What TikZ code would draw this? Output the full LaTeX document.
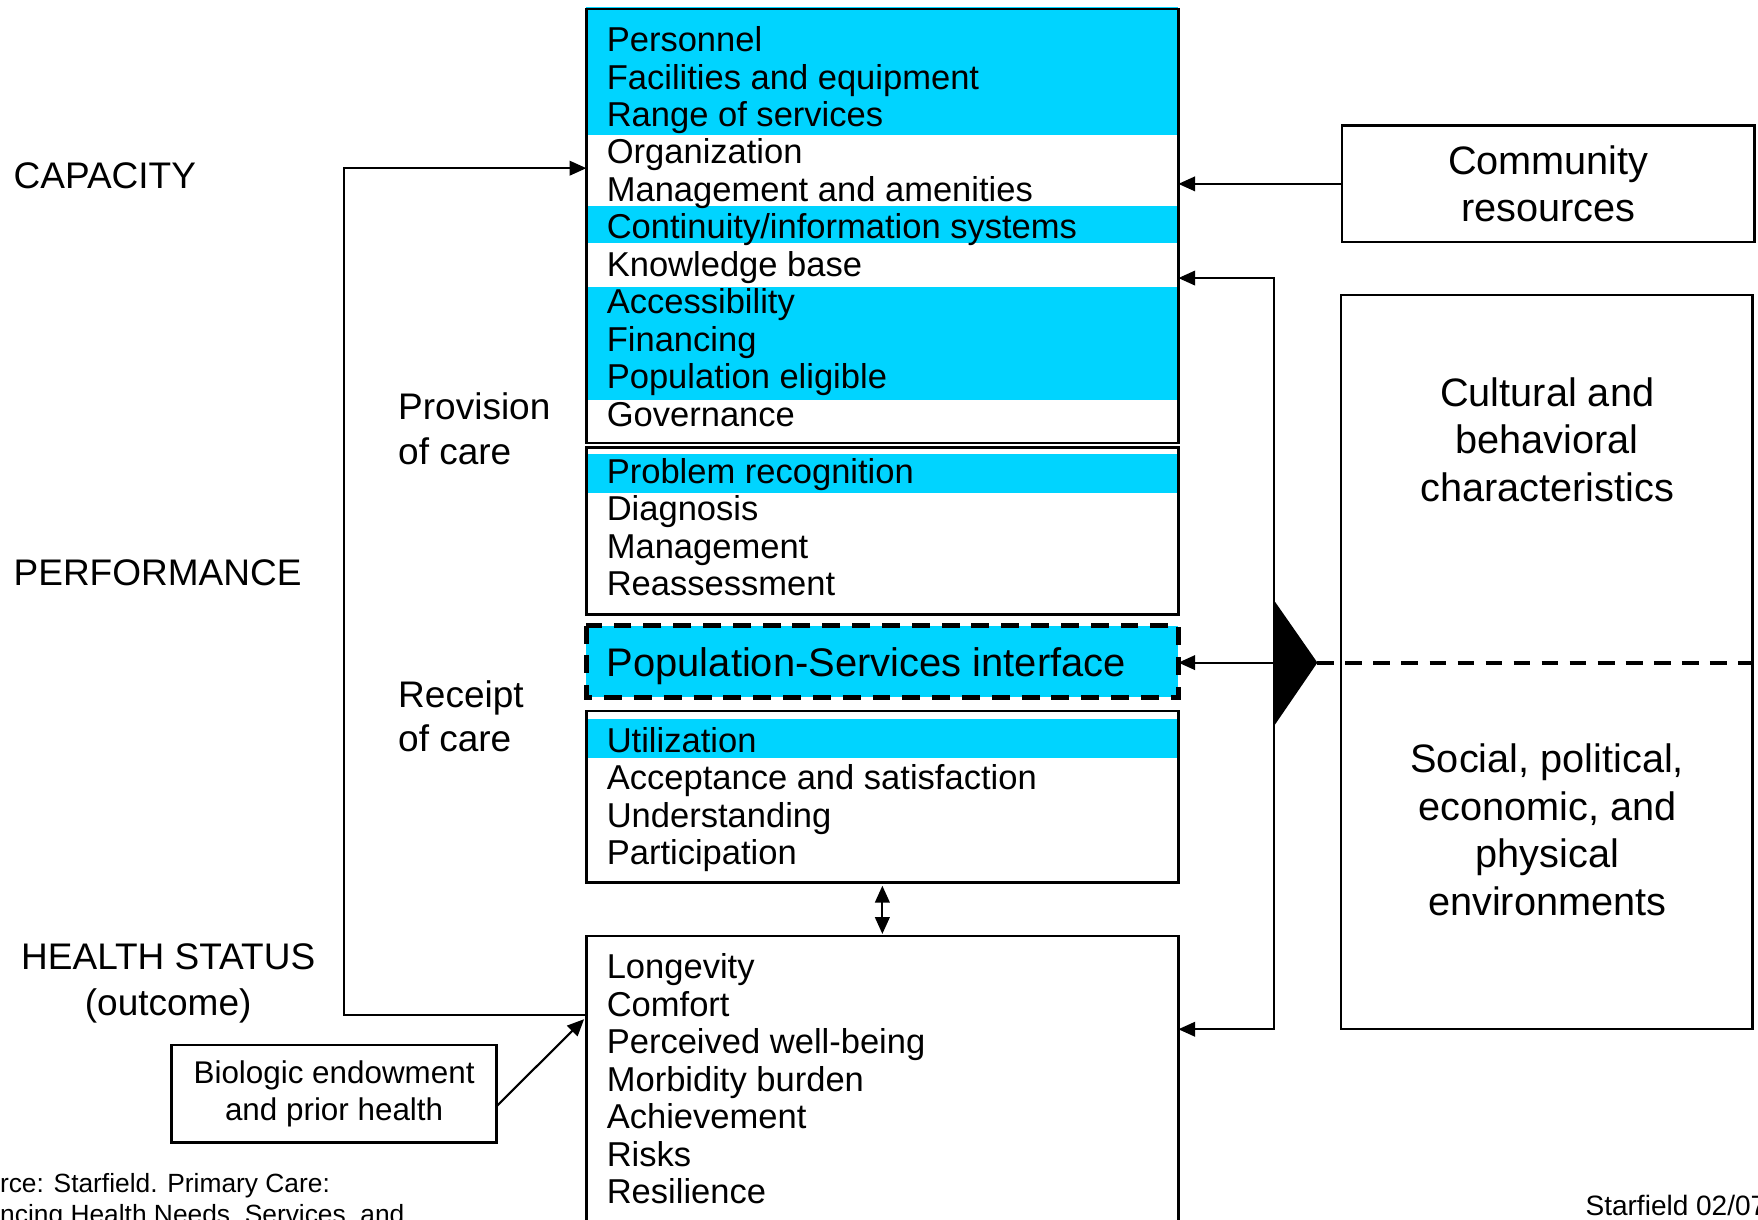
\documentclass[tikz,border=0pt]{standalone}
\usepackage{fontspec}
\setmainfont{Liberation Sans}
\usetikzlibrary{arrows.meta}
\definecolor{band}{RGB}{0,212,255}
\begin{document}
\begin{tikzpicture}[x=1pt,y=-1pt,
  box/.style={draw, line width=2.2pt, rectangle, inner sep=0pt, outer sep=0pt, anchor=north west},
  item/.style={anchor=base west, inner sep=0pt, font=\fontsize{30.8}{33.4}\selectfont},
  lab/.style={inner sep=0pt, font=\fontsize{33}{40}\selectfont},
  big/.style={align=center, inner sep=0pt, font=\fontsize{35.4}{42.5}\selectfont},
  small/.style={inner sep=0pt, font=\fontsize{23.5}{27}\selectfont},
  conn/.style={line width=1.9pt},
  arr/.style={conn, -{Triangle[length=15pt,width=13pt]}},
  dbl/.style={conn, {Triangle[length=15pt,width=13pt]}-{Triangle[length=15pt,width=13pt]}},
  dashline/.style={line width=3.6pt, dash pattern=on 15pt off 10pt},
]
\useasboundingbox (0,0) rectangle (1568,1088);

% cyan bands
\fill[band] (523,6) rectangle (1051,120);
\fill[band] (523,184) rectangle (1051,217);
\fill[band] (523,256) rectangle (1051,357);
\fill[band] (523,405) rectangle (1051,440);
\fill[band] (523,641) rectangle (1051,676);

% boxes
\node[box, minimum width=528pt, minimum height=387pt] (cap) at (523,8) {};
\node[box, minimum width=528pt, minimum height=149pt] (proc) at (523,399) {};
\node[box, draw=none, fill=band, minimum width=528pt, minimum height=64pt] (iface) at (523,558) {};
\draw[line width=4.4pt, dash pattern=on 16pt off 10.6pt] (iface.north west) rectangle (iface.south east);
\node[box, minimum width=528pt, minimum height=153pt] (rec) at (523,634) {};
\node[box, minimum width=528pt, minimum height=300pt] (health) at (523,835) {};
\node[box, minimum width=368pt, minimum height=104pt, big] (comm) at (1197,112) {Community\\resources};
\node[box, minimum width=367pt, minimum height=655pt] (env) at (1196,263) {};
\node[box, minimum width=290pt, minimum height=87pt, align=center, font=\fontsize{28}{33}\selectfont] (bio) at (153,932) {Biologic endowment\\and prior health};

% item texts
\foreach \t [count=\i] in {Personnel, Facilities and equipment, Range of services, Organization, Management and amenities, Continuity/information systems, Knowledge base, Accessibility, Financing, Population eligible, Governance}
  \node[item] (capitem\i) at (541,{46+(\i-1)*33.4}) {\t};
\foreach \t [count=\i] in {Problem recognition, Diagnosis, Management, Reassessment}
  \node[item] (procitem\i) at (541,{431+(\i-1)*33.4}) {\t};
\foreach \t [count=\i] in {Utilization, Acceptance and satisfaction, Understanding, Participation}
  \node[item] (recitem\i) at (541,{671+(\i-1)*33.4}) {\t};
\foreach \t [count=\i] in {Longevity, Comfort, Perceived well-being, Morbidity burden, Achievement, Risks, Resilience}
  \node[item] (healthitem\i) at (541,{873+(\i-1)*33.4}) {\t};
\node[anchor=base west, inner sep=0pt, font=\fontsize{35.6}{40}\selectfont] (ifacetext) at (541,603) {Population-Services interface};

% environment texts
\node[big] (cult) at (1380,392) {Cultural and\\behavioral\\characteristics};
\node[big] (soc) at (1380,740) {Social, political,\\economic, and\\physical\\environments};

% left labels
\node[lab, anchor=base west] (capacity) at (12,168) {CAPACITY};
\node[lab, anchor=base west] (perf) at (12,522) {PERFORMANCE};
\node[lab, anchor=base] (hs) at (150,865) {HEALTH STATUS};
\node[lab, anchor=base] (outc) at (150,906) {(outcome)};
\node[lab, anchor=base west] (prov1) at (355,374) {Provision};
\node[lab, anchor=base west] (prov2) at (355,414) {of care};
\node[lab, anchor=base west] (rcpt1) at (355,631) {Receipt};
\node[lab, anchor=base west] (rcpt2) at (355,670) {of care};

% source notes
\node[small, anchor=base west] (src1) at (-42,1064) {Source: Starfield. Primary Care:};
\node[small, anchor=base west] (src2) at (-47,1091) {Balancing Health Needs, Services, and};
\node[small, anchor=base west, font=\fontsize{25}{28}\selectfont] (stamp) at (1414,1084) {Starfield 02/07};

% left bracket
\coordinate (lt) at (307,150);
\coordinate (lb) at (307,905);
\draw[arr] (lb -| health.west) -- (lb) -- (lt) -- (lt -| cap.west);

% community arrow
\draw[arr] (comm.west) -- (comm.west -| cap.east);

% right connector
\coordinate (rt) at (1136,248);
\coordinate (rb) at (1136,918);
\draw[dbl] (rt -| cap.east) -- (rt) -- (rb) -- (rb -| health.east);
\coordinate (rm) at (1136,591);
\draw[arr] (rm) -- (rm -| iface.east);

% big triangle and dashed divider
\coordinate (tri) at (1175,591);
\fill (1136,535) -- (tri) -- (1136,648) -- cycle;
\draw[dashline] (tri) -- (tri -| env.east);

% receipt <-> health
\draw[dbl, shorten <=3pt, shorten >=2pt] (rec.south) -- (health.north);

% biologic arrow
\coordinate (bioend) at (521,909);
\draw[arr] ([yshift=-11pt]bio.east) -- (bioend);
\end{tikzpicture}
\end{document}
